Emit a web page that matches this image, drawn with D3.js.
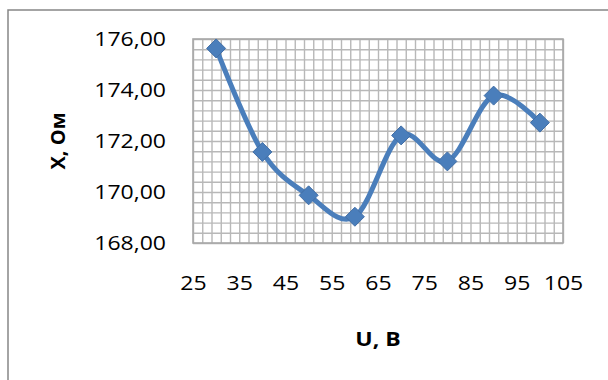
<!DOCTYPE html>
<html>
<head>
<meta charset="utf-8">
<script src="https://cdn.jsdelivr.net/npm/d3@7"></script>
<style>
  body { margin: 0; background: #fff; }
  svg { display: block; }
  text { font-family: "Open Sans", "Noto Sans", sans-serif; fill: #000; }
</style>
</head>
<body>
<svg id="chart" width="608" height="380"></svg>
<script>
// Measured reactance X (Ом) against applied voltage U (В)
const voltage = [30, 40, 50, 60, 70, 80, 90, 100];
const reactance = [175.63, 171.57, 169.87, 169.03, 172.22, 171.20, 173.78, 172.72];
const xTicks = [25, 35, 45, 55, 65, 75, 85, 95, 105];
const yTicks = [168, 170, 172, 174, 176];
const xTitle = "U, B";
const yTitle = "X, Ом";

const W = 608, H = 380;
const plot = { left: 193, top: 39, right: 563, bottom: 243 };
const lineColor = "#4a7ebb";
const gridColor = "#b8b8b8";
const fontSize = 20;
const stretch = 1.15;   // wide glyphs, as in the original sheet

const svg = d3.select("#chart");

// outer chart frame (runs off the right and bottom edges)
svg.append("rect")
  .attr("x", 8).attr("y", 10)
  .attr("width", W + 20).attr("height", H + 20)
  .attr("fill", "#fff")
  .attr("stroke", "#868686")
  .attr("stroke-width", 1.5);

const x = d3.scaleLinear().domain([25, 105]).range([plot.left, plot.right]);
const y = d3.scaleLinear().domain([168, 176]).range([plot.bottom, plot.top]);

// minor gridlines: every 2 В across, every 0.4 Ом down
const xGridVals = d3.range(25, 105.0001, 2);
const yGridVals = d3.range(0, 21).map(i => 168 + i * 0.4);

svg.append("g")
  .attr("transform", `translate(0,${plot.bottom})`)
  .call(d3.axisBottom(x).tickValues(xGridVals).tickSize(-(plot.bottom - plot.top)).tickFormat(""))
  .call(g => g.select(".domain").remove())
  .call(g => g.selectAll("line").attr("stroke", gridColor).attr("stroke-width", 1.4));

svg.append("g")
  .attr("transform", `translate(${plot.left},0)`)
  .call(d3.axisLeft(y).tickValues(yGridVals).tickSize(-(plot.right - plot.left)).tickFormat(""))
  .call(g => g.select(".domain").remove())
  .call(g => g.selectAll("line").attr("stroke", gridColor).attr("stroke-width", 1.4));

// plot area border
svg.append("rect")
  .attr("x", plot.left).attr("y", plot.top)
  .attr("width", plot.right - plot.left).attr("height", plot.bottom - plot.top)
  .attr("fill", "none")
  .attr("stroke", "#a8a8a8")
  .attr("stroke-width", 1.6);

function widen(sel) {
  sel.each(function () {
    const len = this.getComputedTextLength();
    d3.select(this).attr("textLength", len * stretch).attr("lengthAdjust", "spacingAndGlyphs");
  });
}

// y tick labels
const fmt = d => d3.format(".2f")(d).replace(".", ",");
svg.append("g")
  .attr("transform", `translate(${plot.left},0)`)
  .call(d3.axisLeft(y).tickValues(yTicks).tickFormat(fmt).tickSize(0).tickPadding(27))
  .call(g => g.select(".domain").remove())
  .call(g => g.selectAll("text").attr("font-size", fontSize).attr("font-family", null).call(widen));

// x tick labels
svg.append("g")
  .attr("transform", `translate(0,${plot.bottom})`)
  .call(d3.axisBottom(x).tickValues(xTicks).tickSize(0).tickPadding(33))
  .call(g => g.select(".domain").remove())
  .call(g => g.selectAll("text").attr("font-size", fontSize).attr("font-family", null).call(widen));

// axis titles
svg.append("text")
  .attr("x", (plot.left + plot.right) / 2)
  .attr("y", 346)
  .attr("text-anchor", "middle")
  .attr("font-size", fontSize)
  .attr("font-weight", "bold")
  .text(xTitle)
  .call(widen);

svg.append("text")
  .attr("transform", `translate(65,${(plot.top + plot.bottom) / 2}) rotate(-90)`)
  .attr("text-anchor", "middle")
  .attr("font-size", fontSize)
  .attr("font-weight", "bold")
  .text(yTitle);

// smoothed data line
const pts = voltage.map((v, i) => [v, reactance[i]]);
const line = d3.line()
  .x(d => x(d[0]))
  .y(d => y(d[1]))
  .curve(d3.curveCatmullRom.alpha(0));

svg.append("path")
  .datum(pts)
  .attr("d", line)
  .attr("fill", "none")
  .attr("stroke", lineColor)
  .attr("stroke-width", 5)
  .attr("stroke-linejoin", "round");

// diamond markers
const r = 9.5;
svg.append("g")
  .selectAll("path")
  .data(pts)
  .join("path")
  .attr("transform", d => `translate(${x(d[0])},${y(d[1])})`)
  .attr("d", `M0,${-r}L${r},0L0,${r}L${-r},0Z`)
  .attr("fill", lineColor)
  .attr("stroke", "#426fa6")
  .attr("stroke-width", 1);
</script>
</body>
</html>
